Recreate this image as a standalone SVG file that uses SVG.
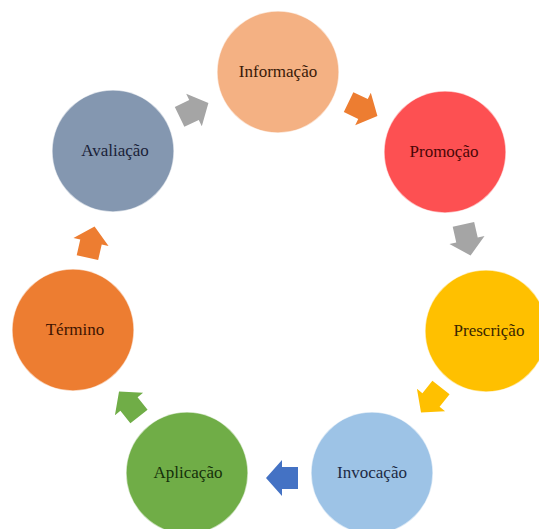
<svg xmlns="http://www.w3.org/2000/svg" width="539" height="529" viewBox="0 0 539 529">
<defs>
<style>
.node{stroke:#ffffff;stroke-width:1.5;stroke-opacity:0.6}
.lbl{font-family:"Liberation Serif","Times New Roman",serif;font-size:17px;text-anchor:middle}
</style>
<path id="arr" d="M-16,-11 L0,-11 L0,-18 L16,0 L0,18 L0,11 L-16,11 Z"/>
</defs>
<rect width="539" height="529" fill="#ffffff"/>
<g id="connectors">
<use href="#arr" fill="#ED7D31" transform="translate(363,109) rotate(25.7)"/>
<use href="#arr" fill="#A5A5A5" transform="translate(467,240) rotate(77.1)"/>
<use href="#arr" fill="#FFC000" transform="translate(431,400) rotate(128.6)"/>
<use href="#arr" fill="#4472C4" transform="translate(282,478) rotate(180)"/>
<use href="#arr" fill="#70AD47" transform="translate(129,404) rotate(231.4)"/>
<use href="#arr" fill="#ED7D31" transform="translate(91,242) rotate(282.9)"/>
<use href="#arr" fill="#A5A5A5" transform="translate(194,110) rotate(334.3)"/>
</g>
<g id="informacao">
<circle class="node" cx="278" cy="72" r="61" fill="#F4B183"/>
<text class="lbl" x="278" y="77" fill="#3A1A08">Informação</text>
</g>
<g id="promocao">
<circle class="node" cx="445" cy="152" r="61" fill="#FD5052"/>
<text class="lbl" x="444" y="157" fill="#4A0606">Promoção</text>
</g>
<g id="prescricao">
<circle class="node" cx="486" cy="331" r="61" fill="#FFC000"/>
<text class="lbl" x="489" y="336" fill="#3A2600">Prescrição</text>
</g>
<g id="invocacao">
<circle class="node" cx="372" cy="473" r="61" fill="#9DC3E6"/>
<text class="lbl" x="372" y="478" fill="#1C2A44">Invocação</text>
</g>
<g id="aplicacao">
<circle class="node" cx="187" cy="473" r="61" fill="#70AD47"/>
<text class="lbl" x="188" y="478" fill="#15300A">Aplicação</text>
</g>
<g id="termino">
<circle class="node" cx="73" cy="330" r="61" fill="#ED7D31"/>
<text class="lbl" x="75" y="335" fill="#3E1400">Término</text>
</g>
<g id="avaliacao">
<circle class="node" cx="113" cy="151" r="61" fill="#8497B0"/>
<text class="lbl" x="115" y="156" fill="#1A2238">Avaliação</text>
</g>
</svg>
